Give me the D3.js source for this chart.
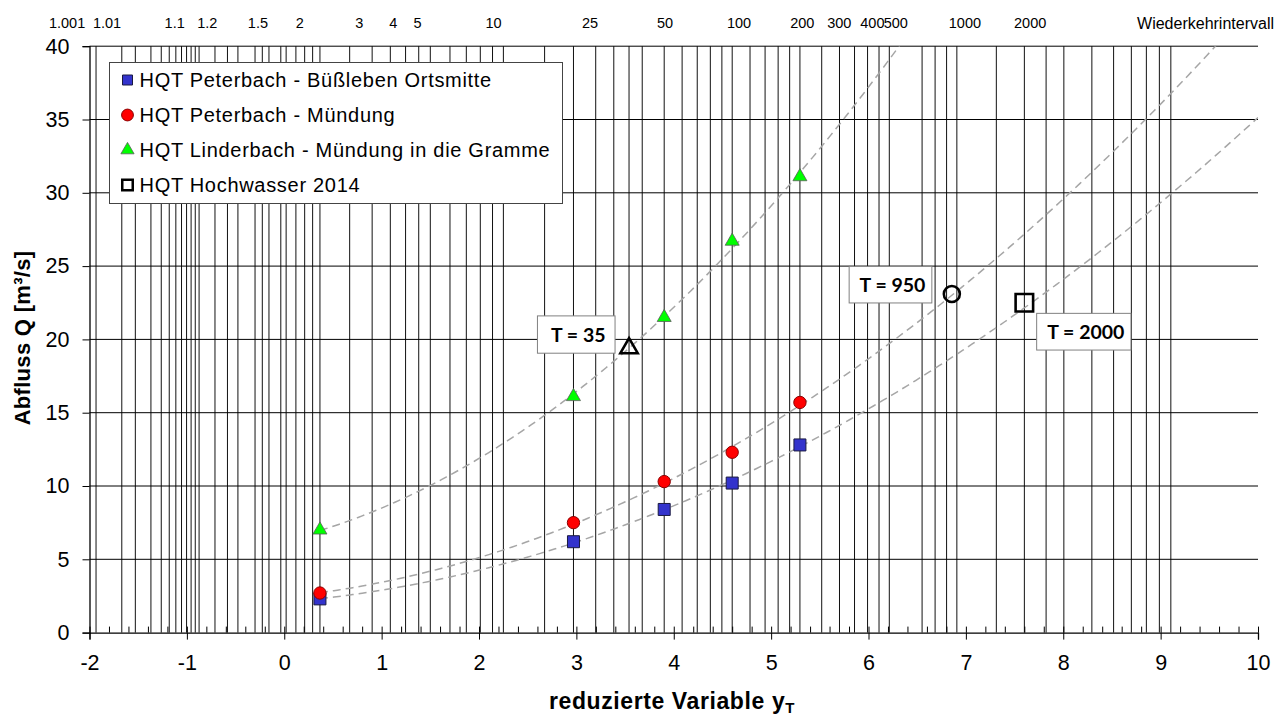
<!DOCTYPE html>
<html><head><meta charset="utf-8">
<script src="https://cdn.jsdelivr.net/npm/d3@7"></script>
<style>
html,body{margin:0;padding:0;background:#fff;}
svg{display:block;font-family:"Liberation Sans",Arial,sans-serif;}
</style></head>
<body>
<script>
// ---------- data ----------
const returnPeriods = [2, 20, 50, 100, 200];
const seriesNames = [
  "HQT Peterbach - Büßleben Ortsmitte",
  "HQT Peterbach - Mündung",
  "HQT Linderbach - Mündung in die Gramme",
  "HQT Hochwasser 2014"
];
const qBuessleben = [2.3, 6.2, 8.4, 10.2, 12.8];
const qPeterMuendung = [2.7, 7.5, 10.3, 12.3, 15.7];
const qLinderbach = [7.0, 16.1, 21.5, 26.7, 31.1];
const flood2014T = [35, 950, 2000];
const flood2014Q = [19.4, 23.1, 22.5];
const flood2014Labels = ["T = 35", "T = 950", "T = 2000"];
const gridT = [1.001, 1.005, 1.01, 1.02, 1.03, 1.04, 1.05, 1.06, 1.07, 1.08, 1.09, 1.1,
  1.15, 1.2, 1.25, 1.35, 1.4, 1.45, 1.55, 1.6, 1.7, 1.8, 1.9, 2, 2.5, 3, 3.5, 4, 4.5, 5,
  6, 7, 8, 9, 10, 15, 20, 25, 30, 35, 40, 50, 60, 70, 80, 90, 100, 120, 140, 160, 180,
  200, 250, 300, 350, 400, 450, 500, 700, 800, 900, 1000, 1500, 2000, 2500, 3000, 4000,
  5000, 6000, 7000, 8000, 9000];
const topLabels = ["1.001", "1.01", "1.1", "1.2", "1.5", "2", "3", "4", "5", "10", "25",
  "50", "100", "200", "300", "400", "500", "1000", "2000"];
// label anchors (reduced variable)
const topLabelAt = [-2.23, -1.82, -1.125, -0.79, -0.27, 0.16, 0.77, 1.12, 1.37, 2.15, 3.14,
  3.91, 4.67, 5.32, 5.70, 6.04, 6.28, 6.99, 7.66];
const topAxisTitle = "Wiederkehrintervall";
const xTicks = [-2, -1, 0, 1, 2, 3, 4, 5, 6, 7, 8, 9, 10];
const yTicks = [0, 5, 10, 15, 20, 25, 30, 35, 40];

// ---------- helpers ----------
const gumbel = T => -Math.log(-Math.log(1 - 1 / T));
function polyfit2(xs, ys) {
  const S = [0,0,0,0,0], R = [0,0,0];
  xs.forEach((x, i) => {
    for (let k = 0; k < 5; k++) S[k] += Math.pow(x, k);
    for (let k = 0; k < 3; k++) R[k] += ys[i] * Math.pow(x, k);
  });
  const M = [[S[0],S[1],S[2],R[0]],[S[1],S[2],S[3],R[1]],[S[2],S[3],S[4],R[2]]];
  for (let i = 0; i < 3; i++) {
    let p = i; for (let r = i+1; r < 3; r++) if (Math.abs(M[r][i]) > Math.abs(M[p][i])) p = r;
    [M[i], M[p]] = [M[p], M[i]];
    for (let r = 0; r < 3; r++) if (r !== i) {
      const f = M[r][i] / M[i][i];
      for (let c = i; c < 4; c++) M[r][c] -= f * M[i][c];
    }
  }
  const a = M[0][3]/M[0][0], b = M[1][3]/M[1][1], c = M[2][3]/M[2][2];
  return x => a + b*x + c*x*x;
}

// ---------- layout ----------
const W = 1277, H = 717;
const x = d3.scaleLinear().domain([-2, 10]).range([89.5, 1258]);
const y = d3.scaleLinear().domain([0, 40]).range([632.6, 46.2]);
const FONT = '"Liberation Sans", Arial, sans-serif';

const svg = d3.select("body").append("svg").attr("width", W).attr("height", H);
svg.append("rect").attr("width", W).attr("height", H).attr("fill", "#fff");

svg.append("clipPath").attr("id", "plot").append("rect")
  .attr("x", x(-2)).attr("y", y(40)).attr("width", x(10) - x(-2)).attr("height", y(0) - y(40));

// vertical grid (return periods)
svg.append("g").selectAll("line").data(gridT).join("line")
  .attr("x1", d => x(gumbel(d))).attr("x2", d => x(gumbel(d)))
  .attr("y1", y(40)).attr("y2", y(0))
  .attr("stroke", "#111").attr("stroke-width", 1);

// horizontal grid
svg.append("g").selectAll("line").data(yTicks.filter(v => v > 0)).join("line")
  .attr("x1", x(-2)).attr("x2", x(10))
  .attr("y1", d => y(d)).attr("y2", d => y(d))
  .attr("stroke", "#000").attr("stroke-width", 1);

// x axis
const gx = svg.append("g").attr("transform", `translate(0,${y(0)})`)
  .call(d3.axisBottom(x).tickValues(xTicks).tickSize(7).tickPadding(15).tickFormat(d => String(d)));
gx.selectAll("text").attr("font-size", 21.5).attr("font-family", FONT).attr("fill", "#000");
gx.select(".domain").attr("stroke", "#000").attr("stroke-width", 1.3);
const minorX = d3.range(-20, 101, 2).map(v => v / 10);
const gx2 = svg.append("g").attr("transform", `translate(0,${y(0)})`)
  .call(d3.axisTop(x).tickValues(minorX).tickSize(6).tickFormat(""));
gx2.select(".domain").remove();

// y axis
const gy = svg.append("g").attr("transform", `translate(${x(-2)},0)`)
  .call(d3.axisLeft(y).tickValues(yTicks).tickSize(7).tickPadding(13).tickFormat(d => String(d)));
gy.selectAll("text").attr("font-size", 21.5).attr("font-family", FONT).attr("fill", "#000");
gy.select(".domain").attr("stroke", "#000").attr("stroke-width", 1.3);

// top labels (return periods)
svg.append("g").selectAll("text").data(topLabels).join("text")
  .attr("x", (d, i) => x(topLabelAt[i])).attr("y", 28)
  .attr("text-anchor", "middle").attr("font-size", 14.5).attr("font-family", FONT)
  .text(d => d);
svg.append("text").attr("x", 1274).attr("y", 29).attr("text-anchor", "end")
  .attr("font-size", 16).attr("font-family", FONT).text(topAxisTitle);

// axis titles
const xt = svg.append("text").attr("x", 672).attr("y", 709).attr("text-anchor", "middle")
  .attr("font-size", 23).attr("font-weight", "bold").attr("font-family", FONT)
  .attr("letter-spacing", 0.6);
xt.append("tspan").text("reduzierte Variable y");
xt.append("tspan").attr("font-size", 15).attr("dy", 4).text("T");
svg.append("text").attr("transform", "translate(30,338) rotate(-90)")
  .attr("text-anchor", "middle").attr("font-size", 22).attr("font-weight", "bold")
  .attr("font-family", FONT).attr("letter-spacing", 0.3).text("Abfluss Q [m³/s]");

// trend curves
const xs = returnPeriods.map(gumbel);
const curveLayer = svg.append("g").attr("clip-path", "url(#plot)");
[qBuessleben, qPeterMuendung, qLinderbach].forEach(qs => {
  const f = polyfit2(xs, qs);
  const pts = d3.range(0, 201).map(i => { const t = xs[0] + (10 - xs[0]) * i / 200; return [t, f(t)]; });
  curveLayer.append("path").datum(pts)
    .attr("d", d3.line().x(d => x(d[0])).y(d => y(d[1])))
    .attr("fill", "none").attr("stroke", "#a6a6a6").attr("stroke-width", 1.5)
    .attr("stroke-dasharray", "8,5");
});

// markers
const sq = d3.symbol().type(d3.symbolSquare), ci = d3.symbol().type(d3.symbolCircle),
      tr = d3.symbol().type(d3.symbolTriangle);
const styles = [
  {sym: sq, size: 144, fill: "#3333cc", stroke: "#1a1a40", sw: 1},
  {sym: ci, size: 120, fill: "#ff0000", stroke: "#8b0000", sw: 1},
  {sym: tr, size: 85, fill: "#00ff00", stroke: "#5a5a5a", sw: 0.8}
];
[qBuessleben, qPeterMuendung, qLinderbach].forEach((qs, k) => {
  const s = styles[k];
  svg.append("g").selectAll("path").data(qs).join("path")
    .attr("transform", (d, i) => `translate(${x(xs[i])},${y(d)})`)
    .attr("d", s.sym.size(s.size)())
    .attr("fill", s.fill).attr("stroke", s.stroke).attr("stroke-width", s.sw);
});

// flood 2014 markers + annotation boxes
const floodSyms = [tr.size(130)(), ci.size(Math.PI * 8 * 8)(), sq.size(17.5 * 17.5)()];
const annot = [ // box offsets relative to marker: dx, dy, w, h
  {dx: -91.6, dy: -32.3, w: 77.6, h: 37.3},
  {dx: -102.7, dy: -27.6, w: 82.7, h: 36.6},
  {dx: 12.3, dy: 10.6, w: 94.3, h: 36.7}
];
flood2014T.forEach((T, i) => {
  const mx = x(gumbel(T)), my = y(flood2014Q[i]);
  svg.append("path").attr("transform", `translate(${mx},${my})`).attr("d", floodSyms[i])
    .attr("fill", "none").attr("stroke", "#000").attr("stroke-width", 2.6);
  const a = annot[i];
  svg.append("rect").attr("x", mx + a.dx).attr("y", my + a.dy).attr("width", a.w).attr("height", a.h)
    .attr("fill", "#fff").attr("stroke", "#808080").attr("stroke-width", 1);
  svg.append("text").attr("x", mx + a.dx + a.w / 2 + 2).attr("y", my + a.dy + a.h / 2 + 7)
    .attr("text-anchor", "middle").attr("font-size", 19.5).attr("font-weight", "bold")
    .attr("font-family", "Lato, 'Open Sans', sans-serif").text(flood2014Labels[i]);
});

// legend
const lg = svg.append("g");
lg.append("rect").attr("x", 109.5).attr("y", 62.5).attr("width", 453).attr("height", 141)
  .attr("fill", "#fff").attr("stroke", "#444").attr("stroke-width", 1);
const legSyms = [
  {d: sq.size(100)(), fill: "#3333cc", stroke: "#1a1a40", sw: 1},
  {d: ci.size(110)(), fill: "#ff0000", stroke: "#8b0000", sw: 1},
  {d: tr.size(75)(), fill: "#00ff00", stroke: "#5a5a5a", sw: 0.8},
  {d: sq.size(110)(), fill: "none", stroke: "#000", sw: 2.5}
];
seriesNames.forEach((name, i) => {
  const cy = 80 + i * 35;
  lg.append("path").attr("transform", `translate(127.5,${cy})`).attr("d", legSyms[i].d)
    .attr("fill", legSyms[i].fill).attr("stroke", legSyms[i].stroke).attr("stroke-width", legSyms[i].sw);
  lg.append("text").attr("x", 139.5).attr("y", cy + 7).attr("font-size", 20)
    .attr("letter-spacing", 0.7).attr("font-family", FONT).text(name);
});
</script>
</body></html>
